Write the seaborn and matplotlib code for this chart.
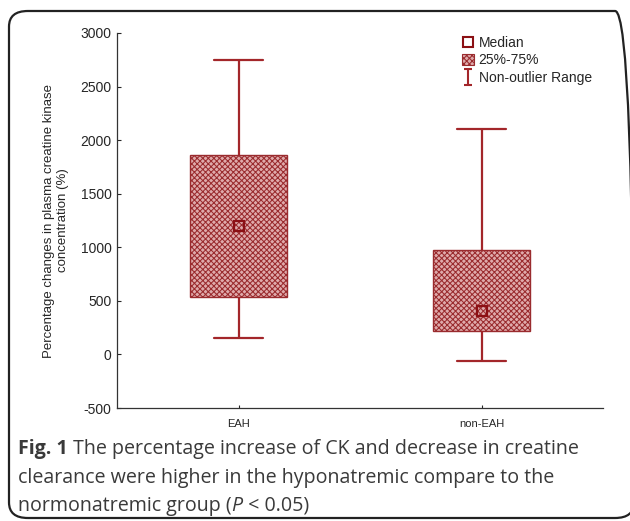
import numpy as np
import pandas as pd
import matplotlib
matplotlib.use("Agg")
import matplotlib.pyplot as plt
import seaborn as sns
from matplotlib.patches import FancyBboxPatch, Patch
from matplotlib.lines import Line2D
from matplotlib.path import Path

# five-number summaries: min, q1, median, q3, max
groups = ["EAH", "non-EAH"]
eah_values = [150, 540, 1200, 1860, 2750]
non_eah_values = [-60, 220, 405, 975, 2100]

y_ticks = [-500, 0, 500, 1000, 1500, 2000, 2500, 3000]
y_label = "Percentage changes in plasma creatine kinase\nconcentration (%)"
legend_labels = ["Median", "25%-75%", "Non-outlier Range"]

RED = "#a3262a"
DARK_RED = "#8b1014"
BOX_FACE = "#dfaaab"

df = pd.DataFrame({
    "group": [groups[0]] * len(eah_values) + [groups[1]] * len(non_eah_values),
    "value": eah_values + non_eah_values,
})

sns.set_style("ticks")
plt.rcParams["font.family"] = ["Liberation Sans", "DejaVu Sans"]
plt.rcParams["hatch.linewidth"] = 0.75

fig = plt.figure(figsize=(6.3, 5.21), dpi=100)
ax = fig.add_axes([117 / 630, 1 - 408 / 521, 486 / 630, 375 / 521])

sns.boxplot(
    data=df, x="group", y="value", ax=ax, order=groups,
    whis=(0, 100), width=0.4, color=BOX_FACE, linecolor=RED, linewidth=1.6,
    medianprops={"visible": False},
)

# checkered fill of the boxes
for p in ax.patches:
    p.set_hatch("xxxxxx")
    p.set_edgecolor("#9a2b2e")
    p.set_facecolor(BOX_FACE)
    p.set_linewidth(1.0)

sns.pointplot(
    data=df, x="group", y="value", ax=ax, order=groups,
    estimator="median", errorbar=None, linestyle="none",
    marker="s", markersize=7, markerfacecolor="none",
    markeredgecolor=DARK_RED, markeredgewidth=1.6, color=DARK_RED,
)

ax.set_xlim(-0.5, 1.5)
ax.set_ylim(-500, 3000)
ax.set_yticks(y_ticks)
ax.set_yticklabels([str(t) for t in y_ticks], fontsize=10)
ax.tick_params(axis="x", labelsize=8, direction="in", length=2, pad=8)
ax.tick_params(axis="y", direction="in", length=3, pad=4)
ax.set_xlabel("")
ax.set_ylabel(y_label, fontsize=9.5, labelpad=8)
sns.despine(ax=ax)
for s in ["left", "bottom"]:
    ax.spines[s].set_color("#333333")
    ax.spines[s].set_linewidth(0.9)

# legend
ibeam = Path(
    [(-0.5, 1), (0.5, 1), (0, 1), (0, -1), (-0.5, -1), (0.5, -1)],
    [Path.MOVETO, Path.LINETO, Path.MOVETO, Path.LINETO, Path.MOVETO, Path.LINETO],
)
handles = [
    Line2D([], [], linestyle="none", marker="s", markersize=7,
           markerfacecolor="none", markeredgecolor=DARK_RED, markeredgewidth=1.5),
    Patch(facecolor=BOX_FACE, edgecolor="#9a2b2e", hatch="xxxxxx", linewidth=0.8),
    Line2D([], [], linestyle="none", marker=ibeam, markersize=12,
           markerfacecolor="none", markeredgecolor=RED, markeredgewidth=1.5),
]
fig.legend(handles, legend_labels, loc="upper left",
           bbox_to_anchor=(462 / 630, 1 - 36 / 521), frameon=False,
           fontsize=10, handlelength=0.9, handleheight=0.9, handletextpad=0.3,
           labelspacing=0.25, borderpad=0, borderaxespad=0)

# rounded frame around figure + caption
frame = FancyBboxPatch((9 / 630, 1 - 518 / 521), 625 / 630, 507 / 521,
                       boxstyle="round,pad=0,rounding_size=0.03",
                       transform=fig.transFigure, facecolor="none",
                       edgecolor="#222222", linewidth=1.6, clip_on=False)
fig.patches.append(frame)

cap_font = ["Open Sans", "DejaVu Sans"]
cap_color = "#3a3a3a"
cap_size = 14.1
renderer = fig.canvas.get_renderer()


def put(pieces, x, y):
    for txt, weight, style in pieces:
        t = fig.text(x, y, txt, fontsize=cap_size, fontweight=weight, fontstyle=style,
                     family=cap_font, color=cap_color, va="baseline", ha="left")
        bb = t.get_window_extent(renderer=renderer)
        x += bb.width / fig.bbox.width


x0 = 18 / 630
put([("Fig. 1", "bold", "normal"),
     (" The percentage increase of CK and decrease in creatine", "normal", "normal")],
    x0, 1 - 454 / 521)
put([("clearance were higher in the hyponatremic compare to the", "normal", "normal")],
    x0, 1 - 483 / 521)
put([("normonatremic group (", "normal", "normal"), ("P", "normal", "italic"),
     (" < 0.05)", "normal", "normal")],
    x0, 1 - 511 / 521)

fig.savefig("out.png", dpi=100)
